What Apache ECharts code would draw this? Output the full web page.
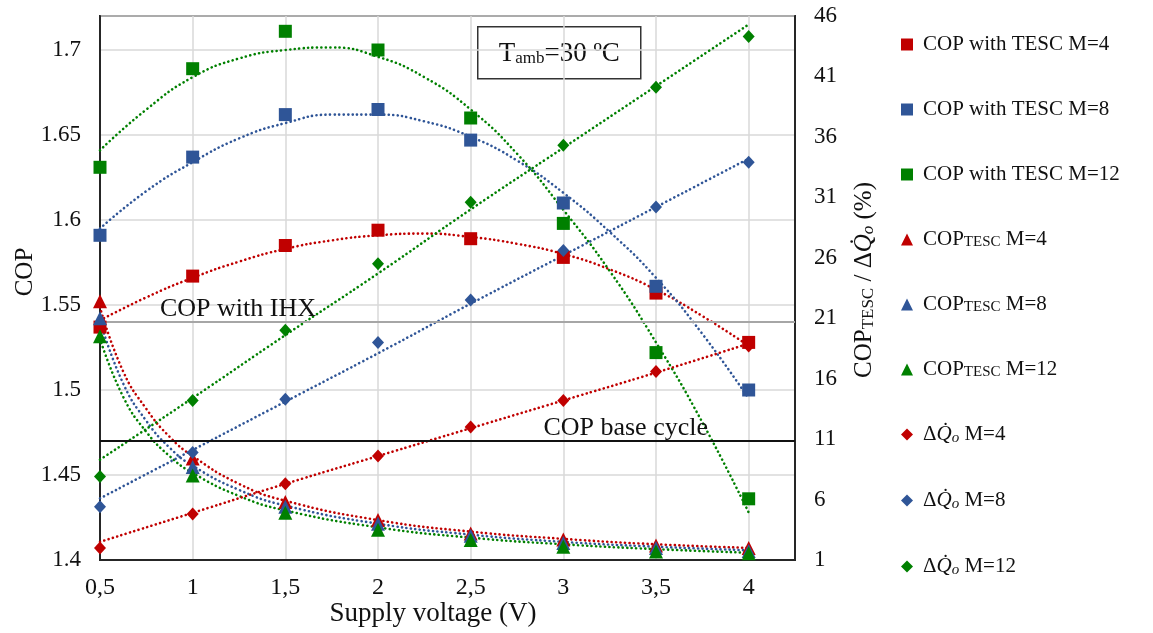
<!DOCTYPE html>
<html><head><meta charset="utf-8">
<script src="https://cdn.jsdelivr.net/npm/echarts@6/dist/echarts.min.js"></script>
<style>html,body{margin:0;padding:0;background:#fff}#c{width:1153px;height:633px}</style>
</head><body><div id="c"></div>
<script>
// ---- data ----
const voltage = [0.5, 1, 1.5, 2, 2.5, 3, 3.5, 4];
const copTescM4  = [1.537, 1.567, 1.585, 1.594, 1.589, 1.578, 1.557, 1.528];
const copTescM8  = [1.591, 1.637, 1.662, 1.665, 1.647, 1.610, 1.561, 1.500];
const copTescM12 = [1.631, 1.689, 1.711, 1.700, 1.660, 1.598, 1.522, 1.436];
const copTESC_M4  = [22.4, 9.4, 5.8, 4.3, 3.2, 2.7, 2.2, 2.0];
const copTESC_M8  = [21.0, 8.7, 5.4, 4.0, 3.0, 2.4, 2.0, 1.75];
const copTESC_M12 = [19.5, 8.0, 4.9, 3.5, 2.65, 2.1, 1.7, 1.55];
const dQ_M4  = [2.0, 4.8, 7.3, 9.6, 12.0, 14.2, 16.6, 18.7];
const dQ_M8  = [5.4, 9.9, 14.3, 19.0, 22.5, 26.6, 30.2, 33.9];
const dQ_M12 = [7.9, 14.2, 20.0, 25.5, 30.6, 35.3, 40.1, 44.3];
// dotted trend lines
const trendCopX = [0.5, 0.75, 1, 1.25, 1.5, 1.75, 2, 2.25, 2.5, 2.75, 3, 3.25, 3.5, 3.75, 4];
const trendCopM4  = [1.541, 1.5545, 1.566, 1.5755, 1.583, 1.588, 1.591, 1.592, 1.590, 1.586, 1.580, 1.571, 1.559, 1.5435, 1.526];
const trendCopM8  = [1.595, 1.617, 1.634, 1.648, 1.657, 1.662, 1.662, 1.658, 1.649, 1.635, 1.616, 1.593, 1.566, 1.533, 1.495];
const trendCopM12 = [1.641, 1.665, 1.684, 1.695, 1.700, 1.7015, 1.696, 1.684, 1.665, 1.639, 1.606, 1.570, 1.528, 1.481, 1.428];
const trendDqX = [0.5, 1, 1.5, 2, 2.5, 3, 3.5, 4];
const trendDqM4  = [2.5, 4.9, 7.3, 9.6, 11.9, 14.2, 16.5, 18.9];
const trendDqM8  = [6.1, 10.1, 14.1, 18.1, 22.2, 26.2, 30.2, 34.2];
const trendDqM12 = [9.3, 14.4, 19.6, 24.7, 30.0, 35.1, 40.2, 45.3];
const trendTescX = [0.5, 0.625, 0.75, 0.875, 1, 1.25, 1.5, 2, 2.5, 3, 3.5, 4];
const trendTescM4  = [21.9, 16.6, 13.5, 11.2, 9.6, 7.3, 5.9, 4.3, 3.35, 2.75, 2.3, 2.0];
const trendTescM8  = [20.8, 15.6, 12.5, 10.3, 8.8, 6.8, 5.5, 4.0, 3.1, 2.5, 2.1, 1.8];
const trendTescM12 = [19.3, 14.5, 11.6, 9.6, 8.2, 6.3, 5.1, 3.7, 2.85, 2.3, 1.9, 1.6];
const copWithIHX = 1.541;
const copBaseCycle = 1.4706;
const xLabels = ['0,5', '1', '1,5', '2', '2,5', '3', '3,5', '4'];
const tambLabel = '{a|T}{b|amb}{a|=30 ºC}';

// ---- styling ----
const RED = '#c00000', BLUE = '#2f5597', GREEN = '#008000';
const FONT = 'Liberation Serif';
const pairs = (xs, ys) => xs.map((x, i) => [x, ys[i]]);

function markers(name, ys, color, symbol, size, yIdx) {
  return { name, type: 'scatter', yAxisIndex: yIdx, data: pairs(voltage, ys),
    symbol, symbolSize: size, itemStyle: { color, opacity: 1 }, z: 5, silent: true };
}
function trend(xs, ys, color, yIdx, extra) {
  return Object.assign({ type: 'line', yAxisIndex: yIdx, data: pairs(xs, ys), smooth: 0.5,
    showSymbol: false, symbol: 'none', silent: true, z: 3,
    lineStyle: { color, width: 2.6, type: [0.1, 4.4], cap: 'round' } }, extra || {});
}

const legendNames = {
  'COP with TESC M=4': 'COP with TESC M=4',
  'COP with TESC M=8': 'COP with TESC M=8',
  'COP with TESC M=12': 'COP with TESC M=12',
  'COPTESC M=4': 'COP{s|TESC} M=4',
  'COPTESC M=8': 'COP{s|TESC} M=8',
  'COPTESC M=12': 'COP{s|TESC} M=12',
  'dQ M=4': 'Δ{i|Q̇}{io|o} M=4',
  'dQ M=8': 'Δ{i|Q̇}{io|o} M=8',
  'dQ M=12': 'Δ{i|Q̇}{io|o} M=12'
};

const chart = echarts.init(document.getElementById('c'));
const option = {
  animation: false,
  backgroundColor: '#fff',
  textStyle: { fontFamily: FONT },
  grid: { left: 100, right: 358, top: 16, bottom: 73, show: true, borderColor: '#262626', borderWidth: 2,
    containLabel: false, outerBoundsMode: 'none' },
  xAxis: {
    type: 'value', min: 0.5, max: 4.25, interval: 0.5,
    name: 'Supply voltage (V)', nameLocation: 'middle', nameGap: 40, nameMoveOverlap: false,
    nameTextStyle: { fontFamily: FONT, fontSize: 27, color: '#111', padding: [0, 29, 0, 0] },
    axisLine: { show: true, lineStyle: { color: '#262626', width: 2 } },
    axisTick: { show: false },
    axisLabel: { fontFamily: FONT, fontSize: 24, color: '#111', margin: 16,
      formatter: v => { const i = voltage.indexOf(v); return i >= 0 ? xLabels[i] : ''; } },
    splitLine: { show: true, lineStyle: { color: '#d9d9d9', width: 1.5 } }
  },
  yAxis: [{
    type: 'value', min: 1.4, max: 1.72, interval: 0.05,
    name: 'COP', nameLocation: 'middle', nameRotate: 90, nameGap: 62, nameMoveOverlap: false,
    nameTextStyle: { fontFamily: FONT, fontSize: 25, color: '#111', padding: [0, 0, 0, 32] },
    axisLine: { show: true, lineStyle: { color: '#262626', width: 2 } },
    axisTick: { show: false },
    axisLabel: { fontFamily: FONT, fontSize: 23, color: '#111', margin: 19,
      formatter: v => v > 1.705 ? '' : String(+v.toFixed(2)) },
    splitLine: { show: true, lineStyle: { color: '#d9d9d9', width: 1.5 } }
  }, {
    type: 'value', min: 1, max: 46, interval: 5, position: 'right',
    name: 'COP{s|TESC} / Δ{i|Q̇}{io|o} (%)', nameLocation: 'middle', nameRotate: 90, nameGap: 56, nameMoveOverlap: false,
    nameTextStyle: { fontFamily: FONT, fontSize: 25, color: '#111', padding: [0, 0, 0, 16],
      rich: { s: { fontFamily: FONT, fontSize: 17, color: '#111', padding: [9, 0, 0, 0] },
              i: { fontFamily: FONT, fontSize: 25, fontStyle: 'italic', color: '#111' },
              io: { fontFamily: FONT, fontSize: 17, fontStyle: 'italic', color: '#111', padding: [9, 0, 0, 0] } } },
    axisLine: { show: true, lineStyle: { color: '#262626', width: 2 } },
    axisTick: { show: false },
    axisLabel: { fontFamily: FONT, fontSize: 23, color: '#111', margin: 19 },
    splitLine: { show: false }
  }],
  legend: {
    orient: 'vertical', left: 896, top: 29, itemGap: 44, itemWidth: 12, itemHeight: 12,
    selectedMode: false,
    data: [
      { name: 'COP with TESC M=4', icon: 'rect' },
      { name: 'COP with TESC M=8', icon: 'rect' },
      { name: 'COP with TESC M=12', icon: 'rect' },
      { name: 'COPTESC M=4', icon: 'triangle' },
      { name: 'COPTESC M=8', icon: 'triangle' },
      { name: 'COPTESC M=12', icon: 'triangle' },
      { name: 'dQ M=4', icon: 'diamond' },
      { name: 'dQ M=8', icon: 'diamond' },
      { name: 'dQ M=12', icon: 'diamond' }
    ],
    formatter: n => legendNames[n],
    textStyle: { fontFamily: FONT, fontSize: 21, color: '#111', padding: [0, 0, 0, 5],
      rich: { s: { fontFamily: FONT, fontSize: 15, color: '#111', padding: [5, 0, 0, 0] },
              i: { fontFamily: FONT, fontSize: 21, fontStyle: 'italic', color: '#111' },
              io: { fontFamily: FONT, fontSize: 15, fontStyle: 'italic', color: '#111', padding: [8, 0, 0, 0] } } }
  },
  graphic: [{
    type: 'group', left: 477, top: 26, z: 100,
    children: [
      { type: 'rect', shape: { x: 0, y: 0, width: 163, height: 52 }, style: { fill: '#fff', stroke: '#333', lineWidth: 1.5 } },
      { type: 'text', x: 81.5, y: 27, style: { text: tambLabel, align: 'center', verticalAlign: 'middle',
        rich: { a: { fontFamily: FONT, fontSize: 27, fill: '#111' }, b: { fontFamily: FONT, fontSize: 17, fill: '#111', padding: [10, 0, 0, 0] } } } }
    ]
  }],
  series: [
    trend(trendCopX, trendCopM4, RED, 0, {
      markLine: { silent: true, symbol: 'none', animation: false,
        data: [
          { yAxis: copWithIHX, lineStyle: { color: '#a6a6a6', width: 2, type: 'solid' },
            label: { show: true, formatter: 'COP with IHX', position: 'insideStartTop', distance: [60, 0],
              fontFamily: FONT, fontSize: 26, color: '#111' } },
          { yAxis: copBaseCycle, lineStyle: { color: '#111', width: 2, type: 'solid' },
            label: { show: true, formatter: 'COP base cycle', position: 'insideEndTop', distance: [87, 0],
              fontFamily: FONT, fontSize: 26, color: '#111' } }
        ] } }),
    trend(trendCopX, trendCopM8, BLUE, 0),
    trend(trendCopX, trendCopM12, GREEN, 0),
    trend(trendTescX, trendTescM4, RED, 1),
    trend(trendTescX, trendTescM8, BLUE, 1),
    trend(trendTescX, trendTescM12, GREEN, 1),
    trend(trendDqX, trendDqM4, RED, 1),
    trend(trendDqX, trendDqM8, BLUE, 1),
    trend(trendDqX, trendDqM12, GREEN, 1),
    markers('COP with TESC M=4', copTescM4, RED, 'rect', 13, 0),
    markers('COP with TESC M=8', copTescM8, BLUE, 'rect', 13, 0),
    markers('COP with TESC M=12', copTescM12, GREEN, 'rect', 13, 0),
    markers('COPTESC M=4', copTESC_M4, RED, 'triangle', 14, 1),
    markers('COPTESC M=8', copTESC_M8, BLUE, 'triangle', 14, 1),
    markers('COPTESC M=12', copTESC_M12, GREEN, 'triangle', 14, 1),
    markers('dQ M=4', dQ_M4, RED, 'diamond', [12, 13], 1),
    markers('dQ M=8', dQ_M8, BLUE, 'diamond', [12, 13], 1),
    markers('dQ M=12', dQ_M12, GREEN, 'diamond', [12, 13], 1)
  ]
};
chart.setOption(option);
</script></body></html>
